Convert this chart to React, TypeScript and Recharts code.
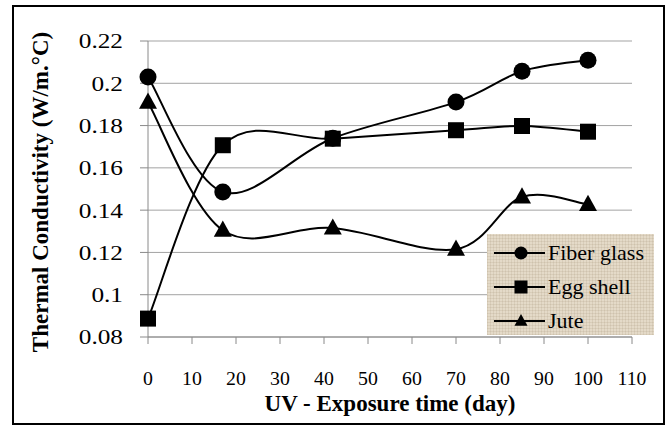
import React from 'react'
import { LineChart, Line, XAxis, YAxis, CartesianGrid, Legend } from 'recharts'

const days = [0, 17, 42, 70, 85, 100]
const fiberGlass = [0.203, 0.1486, 0.174, 0.1911, 0.2057, 0.2109]
const eggShell = [0.0887, 0.1707, 0.1738, 0.1778, 0.1798, 0.1771]
const jute = [0.191, 0.1305, 0.1315, 0.1215, 0.1462, 0.1427]
const xTicks = [0, 10, 20, 30, 40, 50, 60, 70, 80, 90, 100, 110]
const yTicks = [0.08, 0.1, 0.12, 0.14, 0.16, 0.18, 0.2, 0.22]
const seriesOrder = ['fiber', 'egg', 'jute']

const data = days.map((d, i) => ({ day: d, fiber: fiberGlass[i], egg: eggShell[i], jute: jute[i] }))

const FONT = 'Liberation Serif'

// Excel style smoothed line (catmull-rom -> bezier)
const excelSmooth = (context: any) => {
  let pts: number[][] = []
  return {
    areaStart() {},
    areaEnd() {},
    lineStart() { pts = [] },
    point(x: number, y: number) { pts.push([+x, +y]) },
    lineEnd() {
      const n = pts.length
      if (!n) return
      context.moveTo(pts[0][0], pts[0][1])
      for (let i = 0; i < n - 1; i++) {
        const p0 = pts[i - 1] || pts[i]
        const p1 = pts[i]
        const p2 = pts[i + 1]
        const p3 = pts[i + 2] || p2
        context.bezierCurveTo(
          p1[0] + (p2[0] - p0[0]) / 6, p1[1] + (p2[1] - p0[1]) / 6,
          p2[0] - (p3[0] - p1[0]) / 6, p2[1] - (p3[1] - p1[1]) / 6,
          p2[0], p2[1])
      }
    },
  }
}

function markerShape(shape: string, cx: number, cy: number, s: number, key?: any) {
  if (shape === 'square') return <rect key={key} x={cx - s / 2} y={cy - s / 2} width={s} height={s} fill="#000" />
  if (shape === 'triangle') {
    const h = s * 0.9
    return <path key={key} d={`M${cx},${cy - h * 0.6}L${cx + s / 2},${cy + h * 0.4}L${cx - s / 2},${cy + h * 0.4}Z`} fill="#000" />
  }
  return <circle key={key} cx={cx} cy={cy} r={s / 2} fill="#000" />
}

const dotFor = (shape: string, s: number) => (p: any) => markerShape(shape, p.cx, p.cy, s, p.index)

const shapes: Record<string, string> = { fiber: 'circle', egg: 'square', jute: 'triangle' }

const YTick = ({ x, y, payload }: any) => (
  <g transform={`translate(${x},${y}) scale(1.15,1)`}>
    <text x={0} y={0} textAnchor="end" dominantBaseline="central" fontSize={22} fontFamily={FONT} fill="#000">
      {String(payload.value)}
    </text>
  </g>
)

const XTick = ({ x, y, payload }: any) => (
  <g transform={`translate(${x},${y + 35}) scale(1.1,1)`}>
    <text x={0} y={0} textAnchor="middle" dominantBaseline="central" fontSize={18} fontFamily={FONT} fill="#000">
      {String(payload.value)}
    </text>
  </g>
)

const LegendBox = ({ payload }: any) => {
  const items = [...(payload || [])].sort((a: any, b: any) => seriesOrder.indexOf(a.dataKey) - seriesOrder.indexOf(b.dataKey))
  return (
    <div style={{
      width: 167, height: 101, position: 'relative', fontFamily: FONT, fontSize: 22, color: '#000',
      background: 'repeating-linear-gradient(0deg, rgba(140,120,90,0.13) 0 1px, transparent 1px 3px), repeating-linear-gradient(90deg, rgba(140,120,90,0.13) 0 1px, transparent 1px 3px), #e4dac8',
    }}>
      {items.map((it: any, i: number) => (
        <div key={it.value} style={{ position: 'absolute', left: 0, top: 2 + i * 34, height: 34, width: 167 }}>
          <svg width={60} height={34} style={{ position: 'absolute', left: 0, top: 0 }}>
            <line x1={7} x2={58} y1={17} y2={17} stroke="#000" strokeWidth={2} />
            {markerShape(shapes[it.dataKey], 34, 17, 13)}
          </svg>
          <span style={{ position: 'absolute', left: 61, top: 0, lineHeight: '34px', whiteSpace: 'nowrap' }}>{it.value}</span>
        </div>
      ))}
    </div>
  )
}

export default function App() {
  return (
    <div style={{ position: 'absolute', left: 0, top: 0, width: 672, height: 426, background: '#fff', fontFamily: FONT }}>
      <LineChart width={672} height={426} data={data} margin={{ top: 41, right: 40, left: 0, bottom: 0 }}>
        <CartesianGrid vertical={false} stroke="#a3a3a3" />
        <XAxis
          type="number" dataKey="day" domain={[0, 110]} ticks={xTicks} height={89}
          stroke="#8a8a8a" tickSize={7} tickMargin={0} tick={<XTick />} interval={0}
          label={{ content: (p: any) => (
            <text x={p.viewBox.x + p.viewBox.width / 2} y={p.viewBox.y + 66} textAnchor="middle" dominantBaseline="central"
              fontSize={23} fontWeight="bold" fontFamily={FONT} fill="#000">UV - Exposure time (day)</text>
          ) }}
        />
        <YAxis
          type="number" domain={[0.08, 0.22]} ticks={yTicks} width={148}
          stroke="#8a8a8a" tickSize={8} tickMargin={17} tick={<YTick />} interval={0}
          label={{ content: (p: any) => {
            const cx = p.viewBox.x + 40
            const cy = p.viewBox.y + p.viewBox.height / 2 + 3
            return (
              <text x={cx} y={cy} transform={`rotate(-90 ${cx} ${cy})`} textAnchor="middle" dominantBaseline="central"
                fontSize={23} fontWeight="bold" fontFamily={FONT} fill="#000">Thermal Conductivity (W/m.°C)</text>
            )
          } }}
        />
        <Legend layout="vertical" align="center" verticalAlign="middle" content={<LegendBox />}
          wrapperStyle={{ left: 487, top: 234, width: 167, height: 101 }} />
        <Line dataKey="fiber" name="Fiber glass" type={excelSmooth as any} stroke="#000" strokeWidth={2}
          dot={dotFor('circle', 17)} activeDot={false} isAnimationActive={false} />
        <Line dataKey="egg" name="Egg shell" type={excelSmooth as any} stroke="#000" strokeWidth={2}
          dot={dotFor('square', 16)} activeDot={false} isAnimationActive={false} />
        <Line dataKey="jute" name="Jute" type={excelSmooth as any} stroke="#000" strokeWidth={2}
          dot={dotFor('triangle', 18)} activeDot={false} isAnimationActive={false} />
      </LineChart>
      <div style={{ position: 'absolute', left: 12, top: 5, width: 653, height: 420, border: '2px solid #000', boxSizing: 'border-box', pointerEvents: 'none' }} />
    </div>
  )
}
